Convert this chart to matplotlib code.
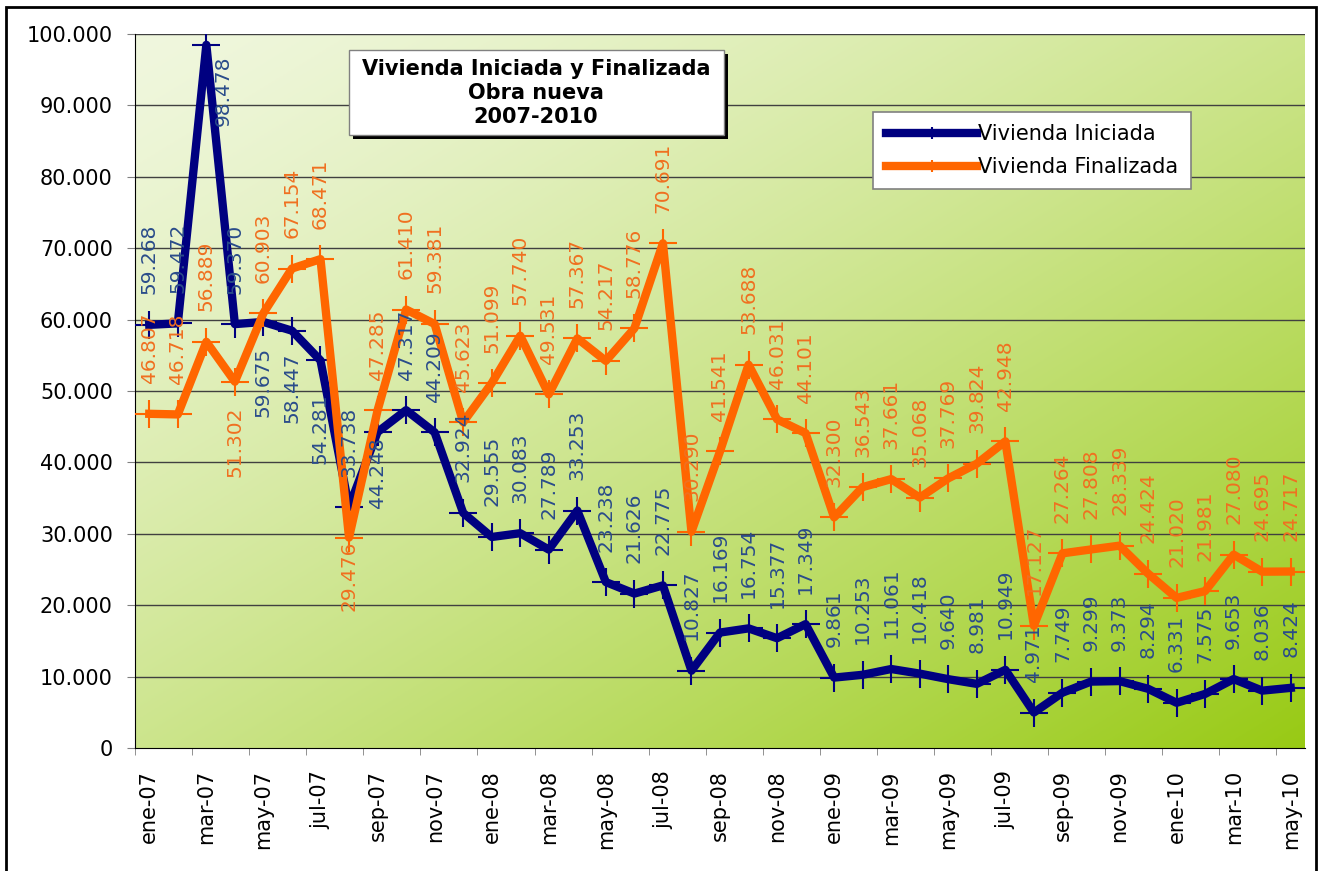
import numpy as np
import matplotlib
matplotlib.use("Agg")
import matplotlib.pyplot as plt
from matplotlib.patches import Rectangle

# Datos: vivienda iniciada y finalizada, obra nueva (ene-2007 a may-2010)
meses = ["ene", "feb", "mar", "abr", "may", "jun", "jul", "ago", "sep", "oct", "nov", "dic"]
anios = ["07", "08", "09", "10"]
categorias = [m + "-" + a for a in anios for m in meses][:41]

iniciada = [59268, 59472, 98478, 59370, 59675, 58447, 54281, 33738, 44248, 47317, 44209, 32924,
            29555, 30083, 27789, 33253, 23238, 21626, 22775, 10827, 16169, 16754, 15377, 17349,
            9861, 10253, 11061, 10418, 9640, 8981, 10949, 4971, 7749, 9299, 9373, 8294,
            6331, 7575, 9653, 8036, 8424]

finalizada = [46807, 46718, 56889, 51302, 60903, 67154, 68471, 29476, 47285, 61410, 59381, 45623,
              51099, 57740, 49531, 57367, 54217, 58776, 70691, 30290, 41541, 53688, 46031, 44101,
              32300, 36543, 37661, 35068, 37769, 39824, 42948, 17127, 27264, 27808, 28339, 24424,
              21020, 21981, 27080, 24695, 24717]

titulo = "Vivienda Iniciada y Finalizada\nObra nueva\n2007-2010"


def miles(v):
    return "{:,.0f}".format(v).replace(",", ".")


# Figura
W, H = 1322, 871
fig = plt.figure(figsize=(W / 100, H / 100), dpi=100)
fig.patch.set_facecolor("white")
ax = fig.add_axes([135 / W, 1 - 748 / H, 1170 / W, 714 / H])

# Fondo degradado del área de trazado
gx, gy = np.meshgrid(np.linspace(0, 1, 300), np.linspace(0, 1, 300))
t = np.clip((gx + gy) / 2, 0, 1) ** 1.3
c0 = np.array([240, 247, 222]) / 255
c1 = np.array([152, 202, 20]) / 255
grad = c0[None, None, :] * (1 - t[..., None]) + c1[None, None, :] * t[..., None]
ax.imshow(grad, extent=[0, 1, 0, 1], transform=ax.transAxes, aspect="auto", zorder=0)

x = np.arange(len(categorias))
azul = "#000080"
naranja = "#ff6600"

ax.plot(x, iniciada, color=azul, lw=6, marker="+", ms=20, mew=1.5,
        label="Vivienda Iniciada", zorder=3, solid_joinstyle="round")
ax.plot(x, finalizada, color=naranja, lw=6, marker="+", ms=20, mew=1.5,
        label="Vivienda Finalizada", zorder=4, solid_joinstyle="round")

# Etiquetas de datos (verticales)
abajo_ini = {4: (0, -18), 5: (0, -16), 6: (0, -24), 8: (0, -4), 2: (12, -8)}
abajo_fin = {3: (0, -18), 7: (0, -2)}
for i, v in enumerate(iniciada):
    off = abajo_ini.get(i, (0, 22))
    ax.annotate(miles(v), (x[i], v), xytext=off, textcoords="offset points",
                rotation=90, ha="center", va="bottom" if off[1] > 0 else "top",
                fontsize=14.5, color="#2a4c8a", zorder=6)
for i, v in enumerate(finalizada):
    off = abajo_fin.get(i, (0, 22))
    ax.annotate(miles(v), (x[i], v), xytext=off, textcoords="offset points",
                rotation=90, ha="center", va="bottom" if off[1] > 0 else "top",
                fontsize=14.5, color="#f07020", zorder=6)

# Ejes
ax.set_xlim(-0.5, len(categorias) - 0.5)
ax.set_ylim(0, 100000)
yt = np.arange(0, 100001, 10000)
ax.set_yticks(yt, [miles(v) for v in yt])
ax.set_xticks(x[::2], categorias[::2], rotation=90)
ax.set_xticks(np.arange(-0.5, len(categorias), 2), minor=True)
ax.tick_params(axis="x", which="major", length=0, pad=16, labelsize=15)
ax.tick_params(axis="x", which="minor", length=5, color="#808080")
ax.tick_params(axis="y", length=6, pad=10, labelsize=15, color="#808080")
for s in ["top", "right"]:
    ax.spines[s].set_visible(False)
ax.spines["left"].set_color("black")
ax.spines["bottom"].set_color("black")
ax.spines["bottom"].set_zorder(5)
for v in yt[1:]:
    ax.axhline(v, color="#404040", lw=1, zorder=1)

# Leyenda
leg = ax.legend(loc="upper left", bbox_to_anchor=(0.631, 0.891), fontsize=15,
                frameon=True, fancybox=False, framealpha=1, edgecolor="#808080",
                handlelength=4.4, handletextpad=0.05, borderpad=0.6, labelspacing=0.6,
                borderaxespad=0, markerscale=0.4)
leg.get_frame().set_linewidth(1.2)
leg.set_zorder(7)

# Cuadro de título con sombra
fig.add_artist(Rectangle((353 / W, 1 - 139 / H), 375 / W, 85 / H,
                         transform=fig.transFigure, fc="black", ec="none", zorder=8))
fig.add_artist(Rectangle((349 / W, 1 - 135 / H), 375 / W, 85 / H,
                         transform=fig.transFigure, fc="white", ec="#808080", lw=1, zorder=9))
fig.text(536 / W, 1 - 93 / H, titulo, ha="center", va="center", fontsize=15,
         fontweight="bold", linespacing=1.22, zorder=10)

# Marco exterior
fig.add_artist(Rectangle((6 / W, -0.05), 1310 / W, 1.05 - 7 / H,
                         transform=fig.transFigure, fill=False, ec="black", lw=2, zorder=11))

fig.savefig("out.png", dpi=100)
